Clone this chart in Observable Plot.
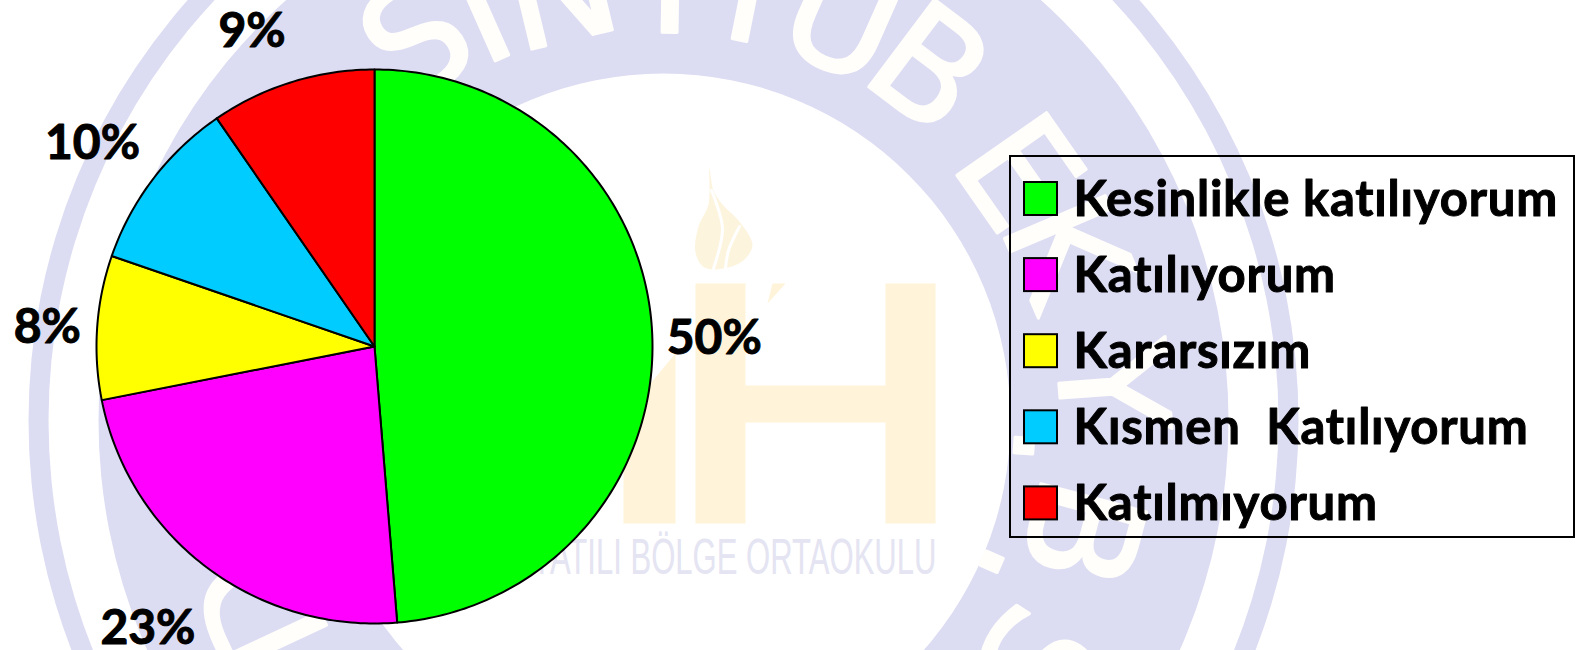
<!DOCTYPE html>
<html lang="tr">
<head>
<meta charset="utf-8">
<title>Anket sonuçları</title>
<style>
html,body{margin:0;padding:0;background:#fff;overflow:hidden}
svg{display:block;white-space:pre}
.legend-text text{letter-spacing:.8px}
</style>
<script src="https://cdn.jsdelivr.net/npm/d3@7"></script>
<script src="https://cdn.jsdelivr.net/npm/@observablehq/plot@0.6"></script>
</head>
<body>
<div id="chart"></div>
<script>
// Chart data
const categories = ["Kesinlikle katılıyorum", "Katılıyorum", "Kararsızım", "Kısmen  Katılıyorum", "Katılmıyorum"];
const shares = [48.7, 23.2, 8.4, 10.1, 9.6];
const percentLabels = ["50%", "23%", "8%", "10%", "9%"];
const sliceColors = ["#00ff00", "#ff00ff", "#ffff00", "#00ccff", "#ff0000"];

// Layout
const W = 1580, H = 650;
const pie = {cx: 374, cy: 346, rx: 278, ry: 277};
const labelRadius = [340, 358.6, 328, 349.5, 342];
const labelNudgeDeg = [0.3, 2.1, 0, -1.06, -3.7];
const legendBox = {x1: 1010, x2: 1574, y1: 156, y2: 537};
const legendRow = {y0: 198.5, step: 76.1, swatchX1: 1024, swatchX2: 1057, swatchH: 33, textX: 1073};

// Background seal (watermark)
const seal = {cx: 663, cy: 420};
const sealLetters = ["S","I","N","T","I","U","B","E","K","Y",".","B",".","S","D"];
const sealAngles = [-33,-24,-13.5,0.9,11.3,24,37,55,67,85.7,94,105,113.3,123,-115];
const sealRadii = [450,445,440,436,436,436,438,429,433,445,400,429,396,440,440];
const lavender = "#dcdcf3", cream = "#fff3da";
const candleShapes = [
  [[695,283],[745,283],[745,385],[885,385],[885,283],[935,283],[935,523],[885,523],[885,422],[745,422],[745,523],[695,523]],
  [[623,523],[623,415],[675,353],[675,523]],
  [[767,303],[772,283],[785,283]]
];
const flame = [[709,168],[713,190],[722,204],[738,220],[752,244],[745,258],[728,267],[704,267],[695,252],[698,226],[708,204]];
const flameStreaks = [
  [[711,190],[722,228],[713,268]],
  [[739,226],[728,250],[725,268]]
];

// Slice geometry from the shares
const total = d3.sum(shares);
let acc = 0;
const slicePoints = [];
const sliceMid = [];
shares.forEach((v, i) => {
  const a0 = acc / total * 2 * Math.PI;
  acc += v;
  const a1 = acc / total * 2 * Math.PI;
  sliceMid.push((a0 + a1) / 2);
  slicePoints.push({name: categories[i], x: pie.cx, y: pie.cy});
  const n = Math.ceil((a1 - a0) * 60);
  for (let k = 0; k <= n; ++k) {
    const a = a0 + (a1 - a0) * k / n;
    slicePoints.push({name: categories[i], x: pie.cx + pie.rx * Math.sin(a), y: pie.cy - pie.ry * Math.cos(a)});
  }
  slicePoints.push({name: categories[i], x: pie.cx, y: pie.cy});
});
const labelData = percentLabels.map((t, i) => {
  const a = sliceMid[i] + labelNudgeDeg[i] * Math.PI / 180;
  return {t, x: pie.cx + labelRadius[i] * Math.sin(a), y: pie.cy - labelRadius[i] * Math.cos(a)};
});
const legendData = categories.map((name, i) => ({name, y: legendRow.y0 + i * legendRow.step}));
const sealData = sealLetters.map((c, i) => {
  const a = sealAngles[i] * Math.PI / 180;
  return {c, rot: sealAngles[i], x: seal.cx + sealRadii[i] * Math.sin(a), y: seal.cy - sealRadii[i] * Math.cos(a)};
});
const rings = [[635, lavender], [615, "#fff"], [565, lavender], [347, "#fff"]];
const pts = (shapes, closed) => shapes.flatMap((s, i) => (closed ? [...s, s[0]] : s).map(([x, y]) => ({i, x, y})));

const font = "Lato, 'Open Sans', sans-serif";
const chart = Plot.plot({
  width: W, height: H, margin: 0,
  x: {domain: [0, W], range: [0, W], axis: null},
  y: {domain: [0, H], range: [0, H], axis: null},
  r: {type: "identity"},
  color: {domain: categories, range: sliceColors},
  style: {background: "#fff", fontFamily: font},
  marks: [
    ...rings.map(([r, f]) => Plot.dot([seal], {x: "cx", y: "cy", r: () => r, fill: f, stroke: "none"})),
    Plot.text(sealData, {x: "x", y: "y", text: "c", rotate: "rot", fontSize: 150, fontFamily: "'DejaVu Sans', sans-serif", fontWeight: 400, fill: "#fffefa", stroke: "#fffefa", strokeWidth: 3, lineAnchor: "middle"}),
    Plot.line(pts(candleShapes, true), {x: "x", y: "y", z: "i", fill: cream, stroke: "none"}),
    Plot.line(pts([flame], false), {x: "x", y: "y", z: "i", fill: "#fdf4de", stroke: "none", curve: "catmull-rom-closed"}),
    Plot.line(pts(flameStreaks, false), {x: "x", y: "y", z: "i", stroke: "#fff", strokeWidth: 3, curve: "catmull-rom"}),
    Plot.text(["YATILI BÖLGE ORTAOKULU"], {x: () => 936, y: () => 557, textAnchor: "end", lineAnchor: "middle", fontSize: 50, fontFamily: "'Liberation Sans', sans-serif", fill: "#e4e4f2", className: "seal-caption"}),
    Plot.line(slicePoints, {x: "x", y: "y", z: "name", fill: "name", stroke: "#000", strokeWidth: 2, strokeLinejoin: "round", curve: "linear"}),
    Plot.text(labelData, {x: "x", y: "y", text: "t", dy: 4, fontSize: 48, fontWeight: 700, fill: "#000", stroke: "#000", strokeWidth: 1, lineAnchor: "middle"}),
    Plot.rect([legendBox], {x1: "x1", x2: "x2", y1: "y1", y2: "y2", fill: "none", stroke: "#000", strokeWidth: 2}),
    Plot.rect(legendData, {x1: () => legendRow.swatchX1, x2: () => legendRow.swatchX2, y1: d => d.y - legendRow.swatchH / 2, y2: d => d.y + legendRow.swatchH / 2, fill: "name", stroke: "#000", strokeWidth: 2}),
    Plot.text(legendData, {x: () => legendRow.textX, y: "y", dy: 1, text: "name", textAnchor: "start", lineAnchor: "middle", fontSize: 49, fontWeight: 700, fill: "#000", stroke: "#000", strokeWidth: 1, className: "legend-text"})
  ]
});
document.getElementById("chart").append(chart);
const cap = chart.querySelector(".seal-caption text");
if (cap) { cap.setAttribute("textLength", 405); cap.setAttribute("lengthAdjust", "spacingAndGlyphs"); }
</script>
</body>
</html>
